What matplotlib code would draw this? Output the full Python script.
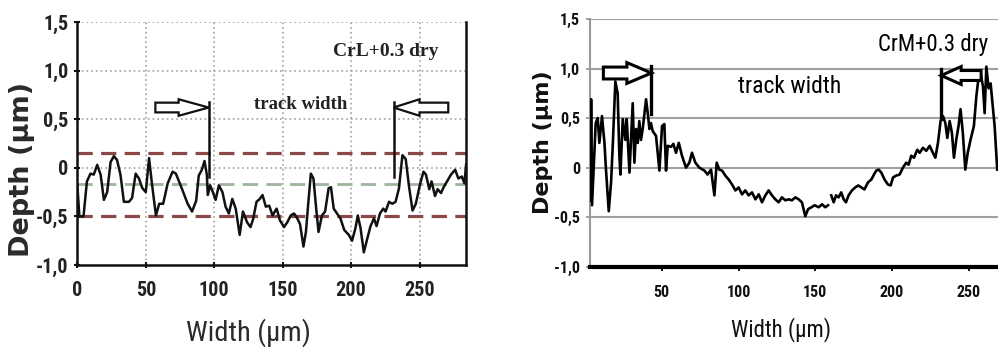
import numpy as np
import matplotlib
matplotlib.use("Agg")
import matplotlib.pyplot as plt
from matplotlib.patches import FancyArrow
from matplotlib.ticker import FixedLocator
from matplotlib import font_manager

plt.rcParams['lines.scale_dashes'] = False

# ---------------- data ----------------
# Left panel: CrL+0.3 dry
left_x = [0, 1.5, 4.5, 7, 9.6, 12, 14.5, 17, 19.4, 21.8, 24.3, 26.7, 29, 31.5, 34, 37.7, 40,
          42.6, 45, 47.5, 50, 52.4, 54.3, 57.4, 59.8, 62.7, 66, 69.6, 72, 75.7, 80.6, 83.8,
          86.8, 88.7, 91, 92.9, 94.6, 95.3, 97, 99, 101, 103.4, 106, 108.3, 110.7, 113.2,
          115.7, 118.6, 121, 124, 126.5, 128.4, 130.9, 133.3, 135.3, 137.7, 140.2, 142.6,
          145.6, 148, 151, 153.4, 155.9, 158.3, 160.3, 162.7, 165.2, 167, 168.8, 170.6,
          172.5, 174.5, 176.2, 178.7, 181, 183.6, 185.3, 187.3, 189.7, 192.2, 195, 198.3,
          200.7, 203.2, 204.9, 206.9, 209.3, 211.8, 214.2, 216.7, 218.6, 221.1, 223.5,
          225.2, 227.7, 230.1, 232.5, 235, 237.5, 239.9, 242.4, 244.9, 247.3, 250.5, 252.9,
          254.7, 257.1, 258.8, 261.3, 263.2, 265.7, 267.6, 270.1, 273, 276, 278.4, 280.9,
          282.8, 284]
left_y = [-0.18, -0.5, -0.5, -0.14, -0.06, -0.07, 0.03, -0.07, -0.33, -0.25, 0.06, 0.12, 0.08,
          -0.07, -0.35, -0.35, -0.31, -0.06, -0.11, -0.21, -0.25, 0.1, -0.14, -0.49, -0.37,
          -0.37, -0.16, -0.04, -0.06, -0.19, -0.37, -0.45, -0.34, -0.08, -0.02, 0.07, -0.07,
          -0.28, -0.18, -0.25, -0.33, -0.18, -0.25, -0.40, -0.47, -0.32, -0.42, -0.69, -0.45,
          -0.56, -0.61, -0.53, -0.35, -0.32, -0.28, -0.40, -0.39, -0.49, -0.42, -0.54, -0.61,
          -0.56, -0.49, -0.47, -0.51, -0.58, -0.81, -0.66, -0.35, -0.06, -0.11, -0.42, -0.66,
          -0.49, -0.45, -0.21, -0.2, -0.42, -0.47, -0.52, -0.64, -0.69, -0.75, -0.62, -0.49,
          -0.62, -0.87, -0.73, -0.60, -0.52, -0.60, -0.47, -0.42, -0.45, -0.35, -0.37, -0.35,
          -0.21, 0.13, 0.09, -0.2, -0.44, -0.37, -0.16, -0.04, -0.07, -0.22, -0.14, -0.29,
          -0.22, -0.26, -0.2, -0.14, -0.07, -0.02, -0.11, -0.09, -0.16, 0.03]

# Right panel: CrM+0.3 dry (nan = gap in the trace)
right_x = [3.6, 4.0, 4.6, 6, 7, 8.3, 9.4, 11.1, 12.7, 13.7, 15.5, 17, 18.1, 19.8, 21.3, 22.4,
           23.1, 24.6, 26.3, 27.2, 29, 31.1, 32.2, 33.3, 34.4, 35.4, 36.5, 37.6, 39.8, 40.9,
           42, 43, 44.1, 46.3, 47.4, 48.5, 50.2, 51.7, 52.8, 53.9, 56.1, 57.6, 59.3, 61.1,
           63.2, 65.8, 68, 69.7, 71.9, 74.5, 77.8, 79.9, 82.1, 84.3, 85.8, 87.5, 89.3, 91.4,
           93.6, 95.8, 98, 100.1, 102.3, 104.4, 106.6, 108.8, 111, 113.2, 115.3, 117.5, 119.6,
           121.8, 124, 126.1, 128.3, 130.5, 132.7, 134.8, 137, 139.2, 141.3, 143.5, 145.3,
           147.4, 149.6, 152.2, 154.4, 156.5, 158.3, 159.3, 160.4, 162, 163.5, 165.2, 166.9,
           168.5, 170, 171.7, 173.9, 176, 178, 180, 182, 184.3, 186.5, 188.2, 189.7, 191.3,
           193, 195.1, 197.3, 199.1, 200.6, 202.7, 204.9, 207.1, 209.2, 210.8, 212.5, 214.3,
           216.4, 218, 220.1, 222.3, 224.5, 226.6, 228.2, 229.9, 231.6, 233.2, 234.7, 236,
           237.5, 239, 240.3, 241.8, 243.3, 244.6, 246.1, 247.7, 249.3, 251.1, 253.3, 254.9,
           256.4, 257.7, 259.2, 260.3, 261.4, 262.9, 264.2, 265.7, 266.8, 268.5]
right_y = [-0.33, 0.69, -0.38, 0.1, 0.45, 0.50, 0.25, 0.52, 0.25, -0.02, -0.44, -0.15, 0.22,
           0.87, 0.75, 0.12, -0.07, 0.49, 0.28, 0.49, -0.05, 0.65, 0.05, 0.39, 0.25, 0.47, 0.28,
           0.39, 0.69, 0.55, 0.39, 0.45, 0.37, 0.32, 0.15, -0.03, 0.42, 0.44, -0.03, 0.22, 0.21,
           0.24, 0.15, 0.25, 0.12, 0.0, 0.05, 0.15, 0.05, 0.0, -0.03, -0.07, -0.02, -0.28, 0.05,
           -0.02, -0.03, -0.08, -0.12, -0.17, -0.23, -0.2, -0.27, -0.23, -0.28, -0.25, -0.32,
           -0.27, -0.35, -0.28, -0.23, -0.28, -0.32, -0.35, -0.3, -0.33, -0.32, -0.33, -0.3,
           -0.32, -0.35, -0.49, -0.42, -0.40, -0.38, -0.40, -0.37, -0.40, -0.38, np.nan, -0.28,
           -0.35, -0.28, -0.3, -0.25, -0.32, -0.35, -0.28, -0.23, -0.2, -0.18, -0.2, -0.22,
           -0.15, -0.12, -0.07, -0.03, -0.02, -0.05, -0.12, -0.17, -0.18, -0.10, -0.08, -0.07,
           0.0, 0.05, 0.03, 0.12, 0.10, 0.18, 0.15, 0.20, 0.17, 0.22, 0.15, 0.10, 0.25, 0.47,
           0.52, 0.45, 0.30, 0.47, 0.35, 0.10, 0.28, 0.42, 0.59, 0.35, -0.02, 0.15, 0.28, 0.42,
           0.72, 0.92, 0.95, 0.82, 0.55, 1.02, 0.8, 0.85, 0.6, 0.42, -0.02]

y_ticks = [-1.0, -0.5, 0.0, 0.5, 1.0, 1.5]
y_tick_labels = ["-1,0", "-0,5", "0", "0,5", "1,0", "1,5"]
left_x_ticks = [0, 50, 100, 150, 200, 250]
right_x_ticks = [50, 100, 150, 200, 250]

# pick a narrow sans font if available, else Liberation Sans with scaled-down sizes
_names = {f.name for f in font_manager.fontManager.ttflist}
if 'Liberation Sans Narrow' in _names:
    NARROW, K = 'Liberation Sans Narrow', 1.0
elif 'Roboto Condensed' in _names:
    NARROW, K = 'Roboto Condensed', 1.0
elif 'Liberation Sans' in _names:
    NARROW, K = 'Liberation Sans', 0.85
else:
    NARROW, K = 'DejaVu Sans', 0.75

fig = plt.figure(figsize=(9.98, 3.49), dpi=100)
fig.patch.set_facecolor('white')

# ---------------- left panel ----------------
axL = fig.add_axes([0.0775, 0.2407, 0.3895, 0.6963])
axL.set_xlim(0, 284)
axL.set_ylim(-1.0, 1.5)
for xv in [50, 100, 150, 200, 250]:
    axL.axvline(xv, color='#9a9a9a', lw=1.1, ls=(0, (1.2, 2.2)), zorder=1)
for yv in [0.0, 0.5, 1.0, 1.5]:
    axL.axhline(yv, color='#9a9a9a', lw=1.1, ls=(0, (1.2, 2.2)), zorder=1)
axL.axhline(0.15, color='#8a4848', lw=2.3, dashes=(11, 6), zorder=2)
axL.axhline(-0.5, color='#8a4848', lw=2.3, dashes=(11, 6), zorder=2)
axL.axhline(-0.17, color='#9db49d', lw=2.0, dashes=(11, 6), zorder=2)
axL.plot(left_x, left_y, color='#111111', lw=1.8, zorder=3)

axL.plot([96, 96], [0.68, -0.09], color='#111111', lw=1.8, zorder=4)
axL.plot([231, 231], [0.68, -0.09], color='#111111', lw=1.8, zorder=4)
axL.add_patch(FancyArrow(57, 0.62, 39, 0, width=0.10, head_width=0.17, head_length=22,
                         length_includes_head=True, fc='white', ec='#111111', lw=1.6, zorder=5))
axL.add_patch(FancyArrow(271, 0.62, -40, 0, width=0.10, head_width=0.17, head_length=19,
                         length_includes_head=True, fc='white', ec='#111111', lw=1.6, zorder=5))
axL.text(163, 0.65, 'track width', family=['Liberation Serif', 'DejaVu Serif'], weight='bold',
         fontsize=13.5, ha='center', va='center', color='#222222')
axL.text(225, 1.2, 'CrL+0.3 dry', family=['Liberation Serif', 'DejaVu Serif'], weight='bold',
         fontsize=14, ha='center', va='center', color='#222222')

for side in ['left', 'bottom', 'right']:
    axL.spines[side].set_color('#111111')
    axL.spines[side].set_linewidth(1.8)
axL.spines['top'].set_visible(False)
axL.xaxis.set_major_locator(FixedLocator(left_x_ticks))
axL.yaxis.set_major_locator(FixedLocator(y_ticks))
axL.set_xticklabels([str(v) for v in left_x_ticks])
axL.set_yticklabels(y_tick_labels)
axL.tick_params(axis='both', direction='inout', length=5, width=1.5, color='#111111')
axL.tick_params(axis='x', pad=9)
axL.tick_params(axis='y', pad=4)
for lab in axL.get_xticklabels() + axL.get_yticklabels():
    lab.set_family(NARROW)
    lab.set_weight('bold')
    lab.set_fontsize(14.5 * K)
    lab.set_color('#222222')

fig.text(0.022, 1 - 169 / 349, 'Depth (µm)', rotation=90, ha='center', va='center',
         fontsize=19.5, weight='bold', color='#2a2a2a', family='DejaVu Sans')
fig.text(248 / 998, 1 - 333 / 349, 'Width (µm)', ha='center', va='center',
         fontsize=20.5 * K, color='#2a2a2a', family=NARROW)

# ---------------- right panel ----------------
axR = fig.add_axes([0.5912, 0.2358, 0.4088, 0.7097])
axR.set_xlim(3.3, 269)
axR.set_ylim(-1.0, 1.5)
for yv in [-0.5, 0.0, 0.5, 1.0, 1.5]:
    axR.axhline(yv, color='#a0a0a0', lw=1.5, zorder=1)
axR.plot(right_x, right_y, color='#000000', lw=1.9, zorder=3)

axR.plot([43.3, 43.3], [1.03, 0.54], color='#000000', lw=2.4, zorder=4)
axR.plot([232, 232], [1.0, 0.49], color='#000000', lw=2.4, zorder=4)
axR.add_patch(FancyArrow(12, 0.955, 31.3, 0, width=0.12, head_width=0.21, head_length=16,
                         length_includes_head=True, fc='white', ec='#000000', lw=2.2, zorder=5))
axR.add_patch(FancyArrow(258, 0.93, -26, 0, width=0.10, head_width=0.18, head_length=13,
                         length_includes_head=True, fc='white', ec='#000000', lw=2.2, zorder=5))
axR.text(133.5, 0.82, 'track width', family=NARROW, fontsize=17 * K,
         ha='center', va='center', color='#000000')
axR.text(226.6, 1.24, 'CrM+0.3 dry', family=NARROW, fontsize=16.5 * K,
         ha='center', va='center', color='#000000')

axR.spines['top'].set_visible(False)
axR.spines['right'].set_visible(False)
axR.spines['left'].set_color('#9a9a9a')
axR.spines['left'].set_linewidth(1.5)
axR.spines['bottom'].set_color('#000000')
axR.spines['bottom'].set_linewidth(3)
axR.xaxis.set_major_locator(FixedLocator(right_x_ticks))
axR.yaxis.set_major_locator(FixedLocator(y_ticks))
axR.set_xticklabels([str(v) for v in right_x_ticks])
axR.set_yticklabels(y_tick_labels)
axR.tick_params(axis='y', direction='out', length=3, width=1.3, color='#9a9a9a', pad=4)
axR.tick_params(axis='x', direction='out', length=3, width=1.3, color='#000000', pad=10)
for lab in axR.get_xticklabels() + axR.get_yticklabels():
    lab.set_family(NARROW)
    lab.set_weight('bold')
    lab.set_fontsize(11.5 * K)
    lab.set_color('#111111')

fig.text(543 / 998, 1 - 142 / 349, 'Depth (µm)', rotation=90, ha='center', va='center',
         fontsize=16, weight='bold', color='#111111', family='DejaVu Sans')
fig.text(781 / 998, 1 - 330 / 349, 'Width (µm)', ha='center', va='center',
         fontsize=16.5 * K, color='#111111', family=NARROW)

fig.savefig('out.png', dpi=100, facecolor='white')
